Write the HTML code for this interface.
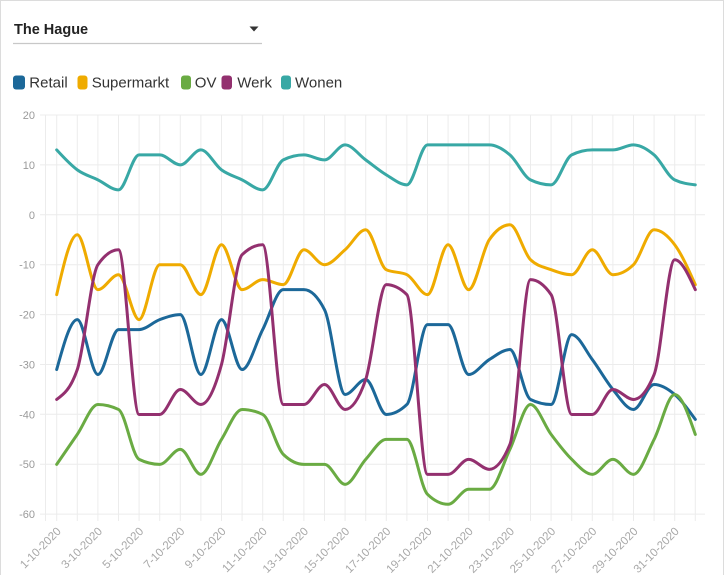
<!DOCTYPE html>
<html>
<head>
<meta charset="utf-8">
<style>
  html,body{margin:0;padding:0;background:#fff;overflow:hidden;}
  body{width:725px;height:575px;position:relative;font-family:"Liberation Sans",sans-serif;}
  .frame{position:absolute;left:0;top:0;width:722px;height:575px;border:1px solid #dcdcdc;border-bottom:none;box-sizing:content-box;}
  svg{position:absolute;left:0;top:0;}
</style>
</head>
<body>
<div class="frame"></div>
<svg width="725" height="575" viewBox="0 0 725 575" xmlns="http://www.w3.org/2000/svg" font-family="Liberation Sans, sans-serif">
  <text x="14" y="34" font-size="14.5" font-weight="bold" fill="#222">The Hague</text>
  <polygon points="249.5,26.5 258.5,26.5 254,31.5" fill="#333"/>
  <line x1="13" y1="43.5" x2="262" y2="43.5" stroke="#c8c8c8" stroke-width="1.2"/>

  <rect x="13" y="75.5" width="12" height="14" rx="3" fill="#1c6899"/>
  <text x="29.3" y="87.7" font-size="15" fill="#333">Retail</text>
  <rect x="77.5" y="75.5" width="10" height="14" rx="3" fill="#efab00"/>
  <text x="91.7" y="87.7" font-size="15" fill="#333">Supermarkt</text>
  <rect x="181" y="75.5" width="10" height="14" rx="3" fill="#6aab43"/>
  <text x="194.8" y="87.7" font-size="15" fill="#333">OV</text>
  <rect x="221.5" y="75.5" width="10.5" height="14" rx="3" fill="#93306f"/>
  <text x="237.3" y="87.7" font-size="15" fill="#333">Werk</text>
  <rect x="281" y="75.5" width="10" height="14" rx="3" fill="#38a8a5"/>
  <text x="295" y="87.7" font-size="15" fill="#333">Wonen</text>

  <g stroke="#ececec" stroke-width="1">
    <line x1="40" x2="705" y1="115" y2="115"/>
    <line x1="40" x2="705" y1="164.9" y2="164.9"/>
    <line x1="40" x2="705" y1="214.8" y2="214.8"/>
    <line x1="40" x2="705" y1="264.7" y2="264.7"/>
    <line x1="40" x2="705" y1="314.6" y2="314.6"/>
    <line x1="40" x2="705" y1="364.5" y2="364.5"/>
    <line x1="40" x2="705" y1="414.3" y2="414.3"/>
    <line x1="40" x2="705" y1="464.2" y2="464.2"/>
    <line x1="40" x2="705" y1="514.1" y2="514.1"/>
    <line x1="45.5" x2="45.5" y1="115" y2="521"/>
    <line x1="56.7" x2="56.7" y1="115" y2="521"/>
    <line x1="77.3" x2="77.3" y1="115" y2="521"/>
    <line x1="97.9" x2="97.9" y1="115" y2="521"/>
    <line x1="118.5" x2="118.5" y1="115" y2="521"/>
    <line x1="139.1" x2="139.1" y1="115" y2="521"/>
    <line x1="159.7" x2="159.7" y1="115" y2="521"/>
    <line x1="180.3" x2="180.3" y1="115" y2="521"/>
    <line x1="200.9" x2="200.9" y1="115" y2="521"/>
    <line x1="221.5" x2="221.5" y1="115" y2="521"/>
    <line x1="242.1" x2="242.1" y1="115" y2="521"/>
    <line x1="262.7" x2="262.7" y1="115" y2="521"/>
    <line x1="283.3" x2="283.3" y1="115" y2="521"/>
    <line x1="303.9" x2="303.9" y1="115" y2="521"/>
    <line x1="324.5" x2="324.5" y1="115" y2="521"/>
    <line x1="345.1" x2="345.1" y1="115" y2="521"/>
    <line x1="365.7" x2="365.7" y1="115" y2="521"/>
    <line x1="386.3" x2="386.3" y1="115" y2="521"/>
    <line x1="406.9" x2="406.9" y1="115" y2="521"/>
    <line x1="427.5" x2="427.5" y1="115" y2="521"/>
    <line x1="448.1" x2="448.1" y1="115" y2="521"/>
    <line x1="468.7" x2="468.7" y1="115" y2="521"/>
    <line x1="489.3" x2="489.3" y1="115" y2="521"/>
    <line x1="509.9" x2="509.9" y1="115" y2="521"/>
    <line x1="530.5" x2="530.5" y1="115" y2="521"/>
    <line x1="551.1" x2="551.1" y1="115" y2="521"/>
    <line x1="571.7" x2="571.7" y1="115" y2="521"/>
    <line x1="592.3" x2="592.3" y1="115" y2="521"/>
    <line x1="612.9" x2="612.9" y1="115" y2="521"/>
    <line x1="633.5" x2="633.5" y1="115" y2="521"/>
    <line x1="654.1" x2="654.1" y1="115" y2="521"/>
    <line x1="674.7" x2="674.7" y1="115" y2="521"/>
    <line x1="695.3" x2="695.3" y1="115" y2="521"/>
  </g>

  <g font-size="11" fill="#9a9a9a" text-anchor="end">
    <text x="35" y="119">20</text>
    <text x="35" y="168.9">10</text>
    <text x="35" y="218.8">0</text>
    <text x="35" y="268.7">-10</text>
    <text x="35" y="318.6">-20</text>
    <text x="35" y="368.5">-30</text>
    <text x="35" y="418.3">-40</text>
    <text x="35" y="468.2">-50</text>
    <text x="35" y="518.1">-60</text>
  </g>

  <g font-size="11.5" fill="#a8a8a8" text-anchor="end">
    <text transform="translate(61.7,532) rotate(-45)">1-10-2020</text>
    <text transform="translate(102.9,532) rotate(-45)">3-10-2020</text>
    <text transform="translate(144.1,532) rotate(-45)">5-10-2020</text>
    <text transform="translate(185.3,532) rotate(-45)">7-10-2020</text>
    <text transform="translate(226.5,532) rotate(-45)">9-10-2020</text>
    <text transform="translate(267.7,532) rotate(-45)">11-10-2020</text>
    <text transform="translate(308.9,532) rotate(-45)">13-10-2020</text>
    <text transform="translate(350.1,532) rotate(-45)">15-10-2020</text>
    <text transform="translate(391.3,532) rotate(-45)">17-10-2020</text>
    <text transform="translate(432.5,532) rotate(-45)">19-10-2020</text>
    <text transform="translate(473.7,532) rotate(-45)">21-10-2020</text>
    <text transform="translate(514.9,532) rotate(-45)">23-10-2020</text>
    <text transform="translate(556.1,532) rotate(-45)">25-10-2020</text>
    <text transform="translate(597.3,532) rotate(-45)">27-10-2020</text>
    <text transform="translate(638.5,532) rotate(-45)">29-10-2020</text>
    <text transform="translate(679.7,532) rotate(-45)">31-10-2020</text>
  </g>

  <g id="series" transform="translate(56.7 214.8) scale(20.6 -4.991)" fill="none" stroke-width="3" stroke-linejoin="round" stroke-linecap="round">
    <polyline class="s" vector-effect="non-scaling-stroke" stroke="#1c6899" points="0,-31 1,-21 2,-32 3,-23 4,-23 5,-21 6,-20 7,-32 8,-21 9,-31 10,-23 11,-15 12,-15 13,-19 14,-36 15,-33 16,-40 17,-38 18,-22 19,-22 20,-32 21,-29 22,-27 23,-37 24,-38 25,-24 26,-29 27,-35 28,-39 29,-34 30,-36 31,-41"/>
    <polyline class="s" vector-effect="non-scaling-stroke" stroke="#efab00" points="0,-16 1,-4 2,-15 3,-12 4,-21 5,-10 6,-10 7,-16 8,-6 9,-15 10,-13 11,-14 12,-7 13,-10 14,-7 15,-3 16,-11 17,-12 18,-16 19,-6 20,-15 21,-5 22,-2 23,-9 24,-11 25,-12 26,-7 27,-12 28,-10 29,-3 30,-6 31,-14"/>
    <polyline class="s" vector-effect="non-scaling-stroke" stroke="#6aab43" points="0,-50 1,-44 2,-38 3,-39 4,-49 5,-50 6,-47 7,-52 8,-45 9,-39 10,-40 11,-48 12,-50 13,-50 14,-54 15,-49 16,-45 17,-45 18,-56 19,-58 20,-55 21,-55 22,-47 23,-38 24,-44 25,-49 26,-52 27,-49 28,-52 29,-45 30,-36 31,-44"/>
    <polyline class="s" vector-effect="non-scaling-stroke" stroke="#93306f" points="0,-37 1,-31 2,-10 3,-7 4,-40 5,-40 6,-35 7,-38 8,-30 9,-8 10,-6 11,-38 12,-38 13,-34 14,-39 15,-33 16,-14 17,-16 18,-52 19,-52 20,-49 21,-51 22,-46 23,-13 24,-16 25,-40 26,-40 27,-35 28,-37 29,-32 30,-9 31,-15"/>
    <polyline class="s" vector-effect="non-scaling-stroke" stroke="#38a8a5" points="0,13 1,9 2,7 3,5 4,12 5,12 6,10 7,13 8,9 9,7 10,5 11,11 12,12 13,11 14,14 15,11 16,8 17,6 18,14 19,14 20,14 21,14 22,12 23,7 24,6 25,12 26,13 27,13 28,14 29,12 30,7 31,6"/>
  </g>
</svg>
<script>
(function(){
  var NS="http://www.w3.org/2000/svg";
  function sign(x){return x<0?-1:1;}
  var polys=document.querySelectorAll("#series polyline.s");
  for(var k=0;k<polys.length;k++){
    var pl=polys[k];
    var pts=pl.getAttribute("points").trim().split(/\s+/).map(function(p){var a=p.split(",");return [parseFloat(a[0]),parseFloat(a[1])];});
    var n=pts.length, s=[], t=new Array(n);
    for(var i=0;i<n-1;i++){s.push((pts[i+1][1]-pts[i][1])/(pts[i+1][0]-pts[i][0]));}
    for(var i=1;i<n-1;i++){
      var a=s[i-1], b=s[i], p=(a+b)/2;
      t[i]=((sign(a)+sign(b))*Math.min(Math.abs(a),Math.abs(b),0.5*Math.abs(p)))||0;
    }
    t[0]=(3*s[0]-t[1])/2;
    t[n-1]=(3*s[n-2]-t[n-2])/2;
    var d="M"+pts[0][0]+","+pts[0][1];
    for(var i=0;i<n-1;i++){
      var x0=pts[i][0],y0=pts[i][1],x1=pts[i+1][0],y1=pts[i+1][1],h=(x1-x0)/3;
      d+="C"+(x0+h)+","+(y0+h*t[i])+" "+(x1-h)+","+(y1-h*t[i+1])+" "+x1+","+y1;
    }
    var path=document.createElementNS(NS,"path");
    path.setAttribute("d",d);
    path.setAttribute("stroke",pl.getAttribute("stroke"));
    path.setAttribute("vector-effect","non-scaling-stroke");
    pl.parentNode.replaceChild(path,pl);
  }
})();
</script>
</body>
</html>
